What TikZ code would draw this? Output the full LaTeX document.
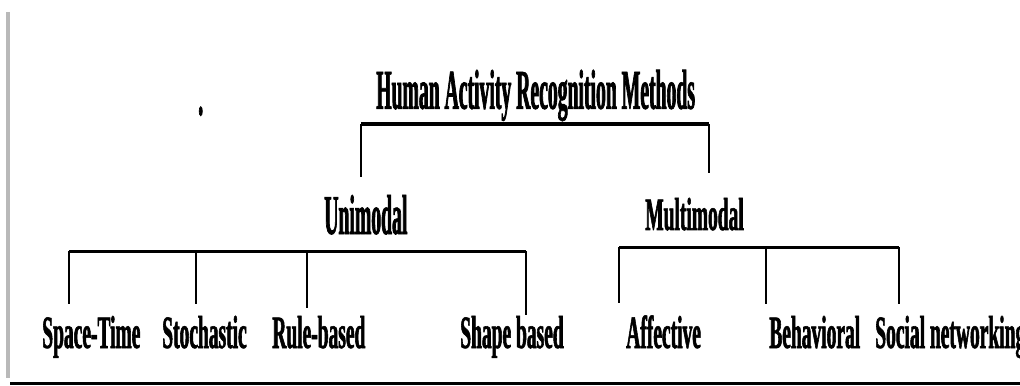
\documentclass[tikz,border=0pt]{standalone}
\usepackage{fontspec}
\usetikzlibrary{calc}

\newfontfamily\headfont[FakeStretch=0.35, FakeBold=1.2]{Liberation Serif}
\newfontfamily\leaffont[FakeStretch=0.42, FakeBold=1.2]{Liberation Serif}

\begin{document}
\begin{tikzpicture}[
  head/.style={font=\headfont\bfseries\fontsize{40}{42}\selectfont, inner sep=0pt, anchor=base west},
  leaf/.style={font=\leaffont\bfseries\fontsize{33}{35}\selectfont, inner sep=0pt, anchor=base west},
  bar/.style={line width=2.3pt},
  drop/.style={line width=1pt}]

  \clip (0,0) rectangle (25.5,-9.65);

  % Frame
  \draw[gray!55, line width=2.5pt] (0.2,-0.3) -- (0.2,-9.45);
  \draw[line width=2.4pt] (0.25,-9.58) -- (25.5,-9.58);

  % ---- Root ----
  \node[head] (root) at (9.4,-2.72) {Human Activity Recognition Methods};
  \node[head] (dot) at (4.95,-2.875) {.};

  \node[head] (uni) at (8.1,-5.85) {Unimodal};
  \node[leaf] (multi) at (16.125,-5.75) {Multimodal};

  \coordinate (rootL) at (9.025,-3.1);
  \coordinate (rootR) at (17.725,-3.1);
  \draw[bar] (rootL) -- (rootR);
  \draw[drop, shorten >=0.45cm] (rootL) -- (rootL |- uni.north);
  \draw[drop, shorten >=0.62cm] (rootR) -- (rootR |- multi.north);

  % ---- Unimodal ----
  \node[leaf] (st) at (1.05,-8.7) {Space-Time};
  \node[leaf] (sto) at (4.05,-8.7) {Stochastic};
  \node[leaf] (rb) at (6.8,-8.7) {Rule-based};
  \node[leaf] (sh) at (11.5,-8.7) {Shape based};

  \coordinate (stTop) at (1.725,-6.28);
  \coordinate (stoTop) at (4.9,-6.28);
  \coordinate (rbTop) at (7.675,-6.28);
  \coordinate (shTop) at (13.15,-6.28);
  \draw[bar] (stTop) -- (shTop);
  \draw[drop, shorten >=0.28cm] (stTop) -- (stTop |- st.north);
  \draw[drop, shorten >=0.28cm] (stoTop) -- (stoTop |- sto.north);
  \draw[drop, shorten >=0.2cm] (rbTop) -- (rbTop |- rb.north);
  \draw[drop, shorten >=0.02cm] (shTop) -- (shTop |- sh.north);

  % ---- Multimodal ----
  \node[leaf] (af) at (15.65,-8.7) {Affective};
  \node[leaf] (be) at (19.225,-8.7) {Behavioral};
  \node[leaf] (so) at (21.875,-8.7) {Social networking};

  \coordinate (afTop) at (15.475,-6.18);
  \coordinate (beTop) at (19.15,-6.18);
  \coordinate (soTop) at (22.475,-6.18);
  \draw[bar] (afTop) -- (soTop);
  \draw[drop, shorten >=0.3cm] (afTop) -- (afTop |- af.north);
  \draw[drop, shorten >=0.3cm] (beTop) -- (beTop |- be.north);
  \draw[drop, shorten >=0.3cm] (soTop) -- (soTop |- so.north);

\end{tikzpicture}
\end{document}
